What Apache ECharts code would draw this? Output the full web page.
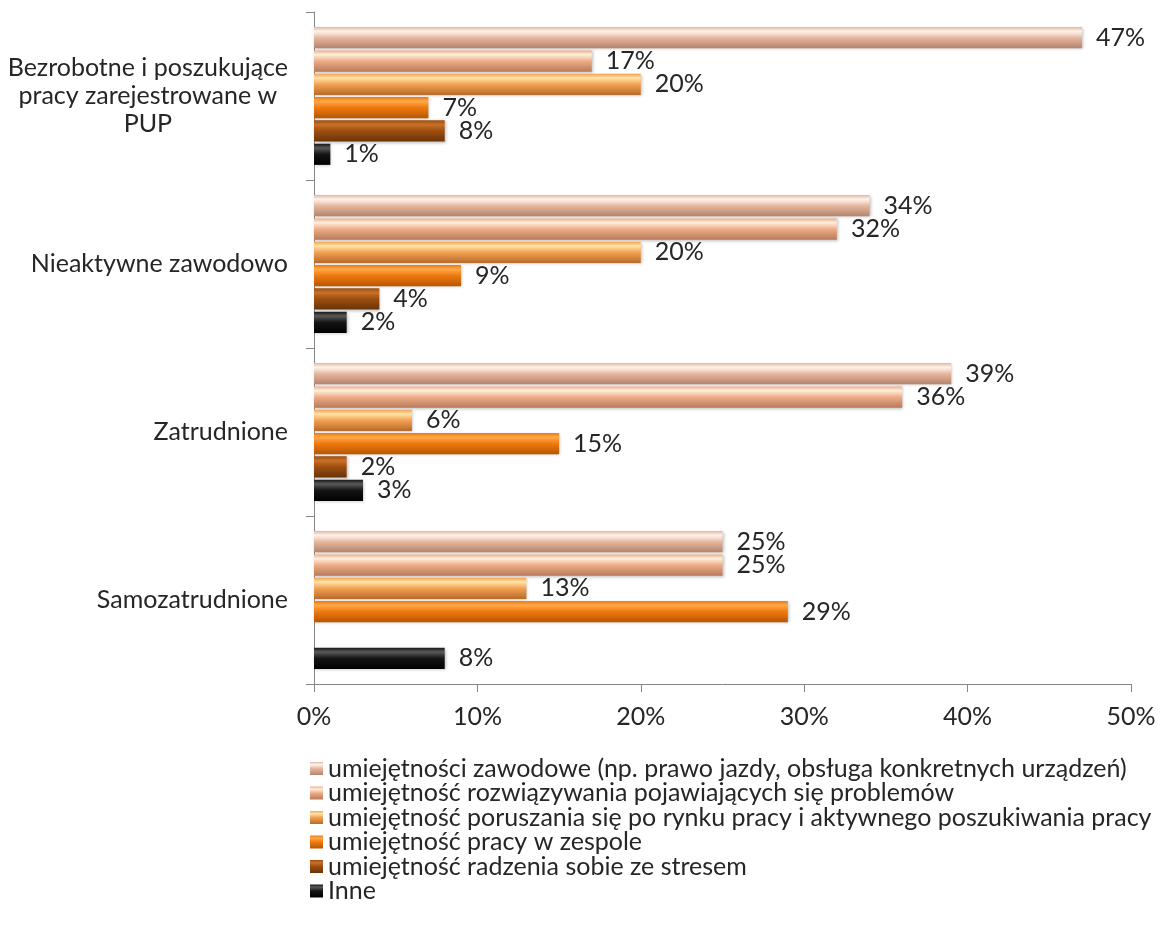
<!DOCTYPE html>
<html>
<head>
<meta charset="utf-8">
<script src="https://cdn.jsdelivr.net/npm/echarts@6/dist/echarts.min.js"></script>
<style>
  html, body { margin: 0; padding: 0; background: #fff; }
  #main { width: 1161px; height: 927px; }
</style>
</head>
<body>
<div id="main"></div>
<script>
// categories, top to bottom
var categories = [
  'Bezrobotne i poszukujące\npracy zarejestrowane w\nPUP',
  'Nieaktywne zawodowo',
  'Zatrudnione',
  'Samozatrudnione'
];

var seriesNames = [
  'umiejętności zawodowe (np. prawo jazdy, obsługa konkretnych urządzeń)',
  'umiejętność rozwiązywania pojawiających się problemów',
  'umiejętność poruszania się po rynku pracy i aktywnego poszukiwania pracy',
  'umiejętność pracy w zespole',
  'umiejętność radzenia sobie ze stresem',
  'Inne'
];

// values in % per category (same order as categories)
var zawodowe     = [47, 34, 39, 25];
var problemy     = [17, 32, 36, 25];
var rynekPracy   = [20, 20, 6, 13];
var zespol       = [7, 9, 15, 29];
var stres        = [8, 4, 2, null];
var inne         = [1, 2, 3, 8];

// top / middle / bottom shades for the bevelled look
var shades = [
  ['#fff4ec', '#e6b7a0', '#b5836c'],
  ['#fff0dc', '#eead88', '#b97a5a'],
  ['#ffe4a8', '#f3a152', '#b86a2a'],
  ['#ffa84a', '#ee7a10', '#b85600'],
  ['#c87028', '#9c4e10', '#6a3408'],
  ['#5a5a5a', '#151515', '#000000']
];

var FONT = 'Lato';
var FS = 25;
var TXT = '#262626';

function grad(c) {
  return new echarts.graphic.LinearGradient(0, 0, 0, 1, [
    { offset: 0, color: c[1] },
    { offset: 0.2, color: c[0] },
    { offset: 0.5, color: c[1] },
    { offset: 1, color: c[2] }
  ]);
}

var allData = [zawodowe, problemy, rynekPracy, zespol, stres, inne];

var series = [];
for (var i = 0; i < allData.length; i++) {
  series.push({
    name: seriesNames[i],
    type: 'bar',
    data: allData[i],
    barCategoryGap: '18%',
    barGap: '10%',
    itemStyle: {
      color: grad(shades[i]),
      shadowColor: 'rgba(0,0,0,0.25)',
      shadowBlur: 3,
      shadowOffsetX: 1,
      shadowOffsetY: 1
    },
    label: {
      show: true,
      position: 'right',
      distance: 14,
      formatter: '{c}%',
      fontFamily: FONT,
      fontSize: FS,
      color: TXT
    }
  });
}

var chart = echarts.init(document.getElementById('main'));
chart.setOption({
  animation: false,
  backgroundColor: '#fff',
  textStyle: { fontFamily: FONT },
  grid: { left: 314, right: 30, top: 12, bottom: 243, containLabel: false },
  legend: {
    orient: 'vertical',
    left: 305,
    top: 751,
    itemWidth: 13,
    itemHeight: 13,
    itemGap: -0.5,
    icon: 'rect',
    textStyle: { fontFamily: FONT, fontSize: FS, lineHeight: 24, color: TXT },
    data: seriesNames
  },
  xAxis: {
    type: 'value',
    min: 0,
    max: 50,
    interval: 10,
    axisLine: { show: true, lineStyle: { color: '#868686' } },
    axisTick: { show: true, length: 8, lineStyle: { color: '#868686' } },
    splitLine: { show: false },
    axisLabel: {
      margin: 20,
      fontFamily: FONT,
      fontSize: FS,
      color: TXT,
      formatter: function (v) { return v + '%'; }
    }
  },
  yAxis: {
    type: 'category',
    inverse: true,
    data: categories,
    axisLine: { show: true, lineStyle: { color: '#868686' } },
    axisTick: { show: true, length: 8, lineStyle: { color: '#868686' } },
    axisLabel: {
      margin: 26,
      align: 'right',
      formatter: function (v) {
        return v.split('\n').map(function (s) { return '{c|' + s + '}'; }).join('\n');
      },
      rich: {
        c: { align: 'center', fontFamily: FONT, fontSize: FS, lineHeight: 28, color: TXT }
      },
      fontFamily: FONT,
      fontSize: FS,
      color: TXT
    }
  },
  series: series
});
</script>
</body>
</html>
